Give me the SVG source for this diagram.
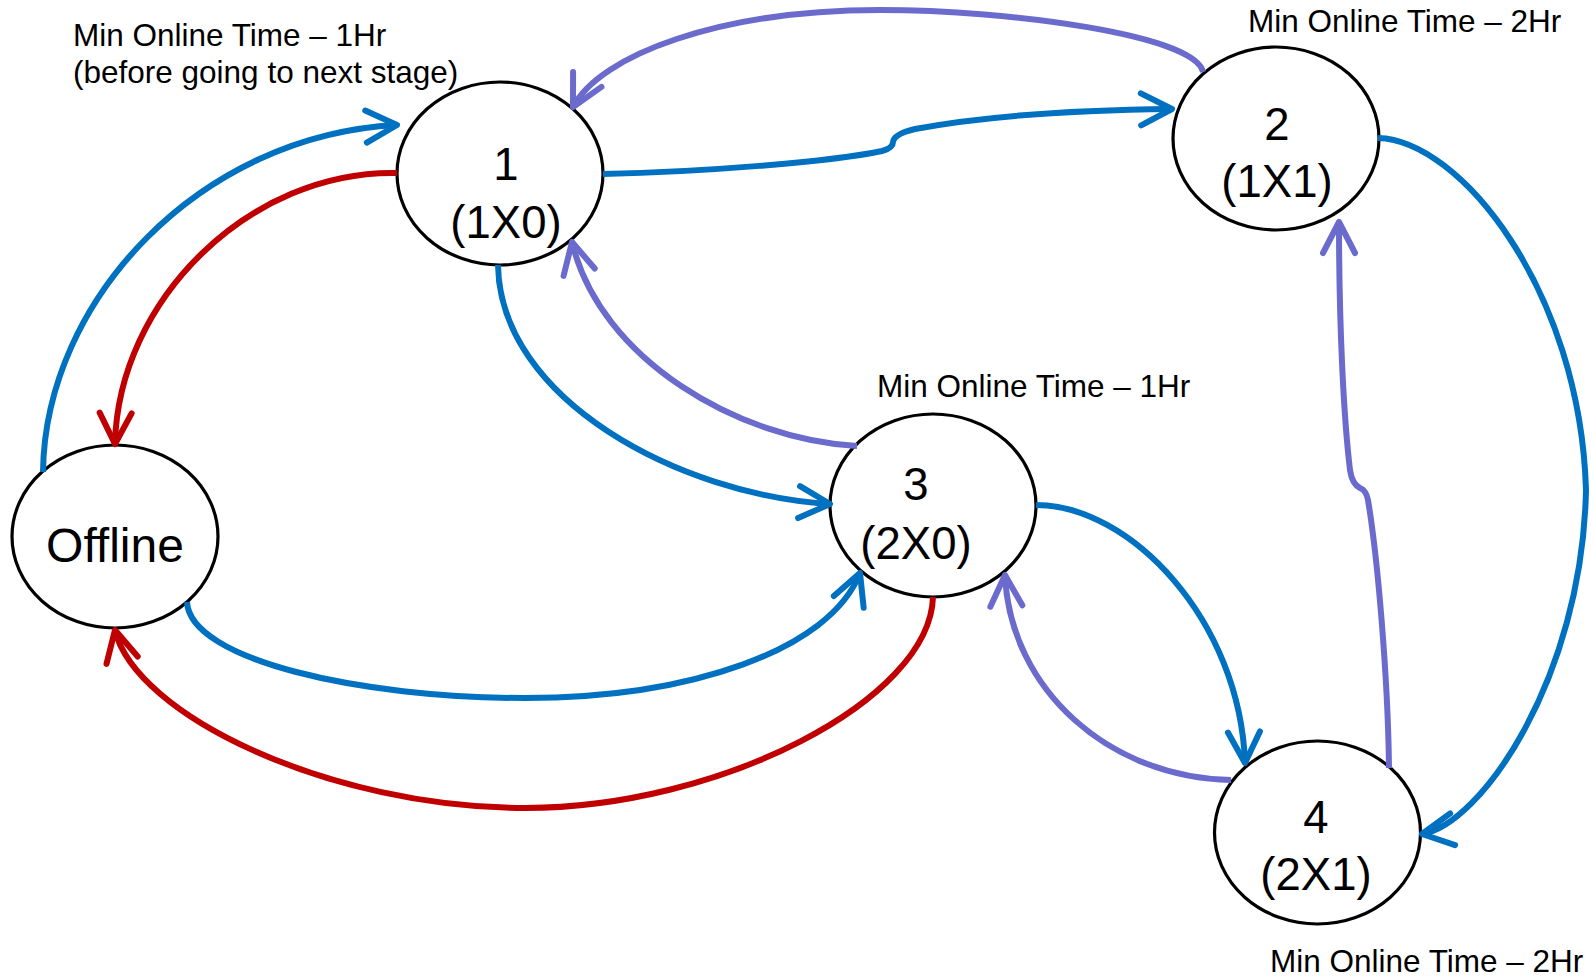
<svg xmlns="http://www.w3.org/2000/svg" width="1594" height="976" viewBox="0 0 1594 976">
  <defs>
    <style>
      .node ellipse { fill: #ffffff; stroke: #000000; stroke-width: 3.2; }
      .node text { font-family: "Liberation Sans", Arial, sans-serif; font-size: 45.5px; fill: #000000; text-anchor: middle; }
      .note { font-family: "Liberation Sans", Arial, sans-serif; font-size: 31.5px; fill: #000000; }
      .edge { fill: none; stroke-width: 6; stroke-linecap: butt; stroke-linejoin: round; }
      .blue { stroke: #0070C0; marker-end: url(#arrow-blue); }
      .red { stroke: #C00000; marker-end: url(#arrow-red); }
      .purple { stroke: #6B6BCE; marker-end: url(#arrow-purple); }
      .head { fill: none; stroke-width: 6; stroke-linecap: round; stroke-linejoin: round; }
    </style>
    <!-- open chevron arrowheads, one per line colour -->
    <marker id="arrow-blue" markerUnits="userSpaceOnUse" markerWidth="40" markerHeight="40" refX="0" refY="0" orient="auto" overflow="visible">
      <path class="head" d="M -31 -16 L 0 0 L -31 16" stroke="#0070C0"/>
    </marker>
    <marker id="arrow-red" markerUnits="userSpaceOnUse" markerWidth="40" markerHeight="40" refX="0" refY="0" orient="auto" overflow="visible">
      <path class="head" d="M -31 -16 L 0 0 L -31 16" stroke="#C00000"/>
    </marker>
    <marker id="arrow-purple" markerUnits="userSpaceOnUse" markerWidth="40" markerHeight="40" refX="0" refY="0" orient="auto" overflow="visible">
      <path class="head" d="M -31 -16 L 0 0 L -31 16" stroke="#6B6BCE"/>
    </marker>
  </defs>

  <rect width="1594" height="976" fill="#ffffff"/>

  <!-- state nodes -->
  <g id="node-offline" class="node">
    <ellipse cx="115" cy="536.5" rx="103" ry="91.5"/>
    <text x="115" y="562" style="font-size:48px">Offline</text>
  </g>
  <g id="node-1" class="node">
    <ellipse cx="500" cy="173.5" rx="103" ry="91.5"/>
    <text x="506" y="180">1</text>
    <text x="506" y="238">(1X0)</text>
  </g>
  <g id="node-2" class="node">
    <ellipse cx="1276" cy="138.5" rx="103" ry="91.5"/>
    <text x="1277" y="140">2</text>
    <text x="1277" y="197">(1X1)</text>
  </g>
  <g id="node-3" class="node">
    <ellipse cx="933" cy="505.5" rx="103" ry="91.5"/>
    <text x="916" y="500">3</text>
    <text x="916" y="559">(2X0)</text>
  </g>
  <g id="node-4" class="node">
    <ellipse cx="1317.5" cy="832.5" rx="103" ry="91.5"/>
    <text x="1316" y="833">4</text>
    <text x="1316" y="890">(2X1)</text>
  </g>

  <!-- transitions -->
  <g id="connectors">
    <!-- Offline -> 1 -->
    <path class="edge blue" d="M 43 472 C 45 300, 200 135, 397 125"/>
    <!-- 1 -> Offline -->
    <path class="edge red" d="M 397 173 C 250 170, 118 300, 115 444"/>
    <!-- 1 -> 2 -->
    <path class="edge blue" d="M 603 174 C 700 172, 830 162, 882 151 Q 893 148, 893 142 Q 894 134, 915 129 C 990 115, 1080 110, 1172 109"/>
    <!-- 2 -> 1 -->
    <path class="edge purple" d="M 1203 72 C 1195 35, 1010 10, 880 10 C 720 10, 600 55, 573 107"/>
    <!-- 1 -> 3 -->
    <path class="edge blue" d="M 498 265 C 500 400, 680 495, 830 504"/>
    <!-- 3 -> 1 -->
    <path class="edge purple" d="M 857 446 C 740 440, 600 360, 572 242"/>
    <!-- Offline -> 3 -->
    <path class="edge blue" d="M 187 602 C 190 660, 360 698, 525 698 C 690 698, 830 650, 860 573"/>
    <!-- 3 -> Offline -->
    <path class="edge red" d="M 933 597 C 930 700, 720 808, 525 808 C 330 808, 135 715, 115 630"/>
    <!-- 3 -> 4 -->
    <path class="edge blue" d="M 1036 505 C 1130 505, 1240 620, 1245 763"/>
    <!-- 4 -> 3 -->
    <path class="edge purple" d="M 1231 780 C 1110 778, 1010 690, 1005 575"/>
    <!-- 4 -> 2 -->
    <path class="edge purple" d="M 1389 768 C 1388 680, 1378 560, 1368 500 Q 1366 490, 1360 488 Q 1352 484, 1350 470 C 1344 420, 1339 330, 1339 222"/>
    <!-- 2 -> 4 -->
    <path class="edge blue" d="M 1378 138 C 1460 140, 1580 290, 1586 490 C 1582 680, 1480 825, 1422 834"/>
  </g>

  <!-- timing notes -->
  <g id="notes">
    <text class="note" x="73" y="46">Min Online Time – 1Hr</text>
    <text class="note" x="73" y="83">(before going to next stage)</text>
    <text class="note" x="1248" y="32">Min Online Time – 2Hr</text>
    <text class="note" x="877" y="397">Min Online Time – 1Hr</text>
    <text class="note" x="1270" y="972">Min Online Time – 2Hr</text>
  </g>
</svg>
